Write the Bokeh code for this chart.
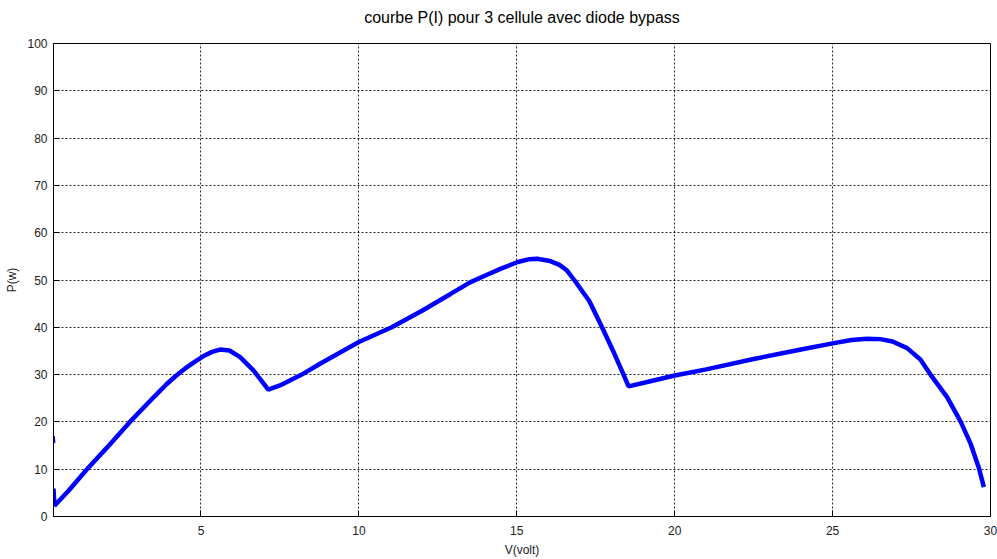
from bokeh.plotting import figure
from bokeh.models import Range1d, FixedTicker, Title
from bokeh.embed import file_html
from bokeh.resources import INLINE

TITLE = "courbe P(I) pour 3 cellule avec diode bypass"

# Main P(V) curve
V = [0.33, 0.36, 0.8, 1.39, 2.0, 2.75, 3.5, 3.9, 4.2, 4.5, 4.8, 5.1, 5.35, 5.6, 5.9, 6.24, 6.66, 7.13,
     7.5, 8.19, 8.77, 10.0, 11.04, 12.0, 12.89, 13.52, 13.95, 14.5, 15.03, 15.4, 15.64, 16.06,
     16.35, 16.59, 16.82, 17.3, 17.7, 18.05, 18.38, 18.54, 19.23, 20.0, 21.0, 22.5, 24.0, 25.0, 25.6,
     26.09, 26.51, 26.9, 27.36, 27.78, 28.1, 28.63, 29.05, 29.37, 29.63, 29.79]
P = [5.9, 2.3, 5.4, 10.0, 14.4, 20.0, 25.2, 27.9, 29.7, 31.3, 32.7, 34.0, 34.8, 35.3, 35.1, 33.7, 30.9, 26.8,
     27.7, 30.0, 32.3, 36.9, 40.0, 43.5, 47.0, 49.5, 50.8, 52.4, 53.8, 54.4, 54.5, 54.0,
     53.2, 52.0, 50.0, 45.5, 40.0, 35.0, 30.0, 27.5, 28.6, 29.8, 31.1, 33.3, 35.3, 36.6, 37.3,
     37.6, 37.5, 37.0, 35.6, 33.2, 30.0, 25.2, 20.1, 15.4, 10.3, 6.2]
# small fragment at the left edge
V_frag = [0.30, 0.32]
P_frag = [17.0, 15.5]

x_ticks = [5, 10, 15, 20, 25, 30]
y_ticks = [0, 10, 20, 30, 40, 50, 60, 70, 80, 90, 100]

FONT = "Liberation Sans Narrow, Liberation Sans, Arial, sans-serif"

p = figure(width=997, height=559, output_backend="svg", toolbar_location=None,
           x_range=Range1d(0.33, 30), y_range=Range1d(0, 100),
           min_border_left=53, min_border_right=7, min_border_top=0, min_border_bottom=43)

p.outline_line_color = "black"
p.outline_line_width = 1
p.background_fill_color = "white"
p.border_fill_color = "white"

# spacer between title and frame, the title, then a small spacer on top
p.add_layout(Title(text=" ", text_font_size="12px", standoff=0), "above")
p.add_layout(Title(text=TITLE, align="center", offset=13,
                   text_font="Liberation Sans, Arial, sans-serif", text_font_size="16px",
                   text_font_style="normal", text_color="black", standoff=3), "above")
p.add_layout(Title(text=" ", text_font_size="3px", standoff=0), "above")

p.xaxis.ticker = FixedTicker(ticks=x_ticks)
p.yaxis.ticker = FixedTicker(ticks=y_ticks)
for ax in (p.xaxis[0], p.yaxis[0]):
    ax.major_tick_in = 6
    ax.major_tick_out = 0
    ax.minor_tick_in = 0
    ax.minor_tick_out = 0
    ax.axis_line_color = "black"
    ax.major_tick_line_color = "black"
    ax.major_label_text_font = FONT
    ax.major_label_text_font_size = "12px"
    ax.major_label_text_color = "#222222"
    ax.axis_label_text_font = FONT
    ax.axis_label_text_font_size = "12px"
    ax.axis_label_text_font_style = "normal"
    ax.axis_label_text_color = "#222222"

p.xaxis.axis_label = "V(volt)"
p.yaxis.axis_label = "P(w)"
p.xaxis.major_label_standoff = 9
p.xaxis.axis_label_standoff = 5
p.yaxis.major_label_standoff = 6
p.yaxis.axis_label_standoff = 5

p.xgrid.ticker = FixedTicker(ticks=x_ticks[:-1])
p.ygrid.ticker = FixedTicker(ticks=y_ticks[1:-1])
for g in (p.xgrid[0], p.ygrid[0]):
    g.grid_line_color = "black"
    g.grid_line_dash = "2 2"
    g.grid_line_width = 1
    g.grid_line_alpha = 0.85

p.line(V, P, line_color="#0000ff", line_width=4.5)
p.line(V_frag, P_frag, line_color="#0000ff", line_width=4.5)

open("out.html", "w").write(file_html(p, INLINE))
